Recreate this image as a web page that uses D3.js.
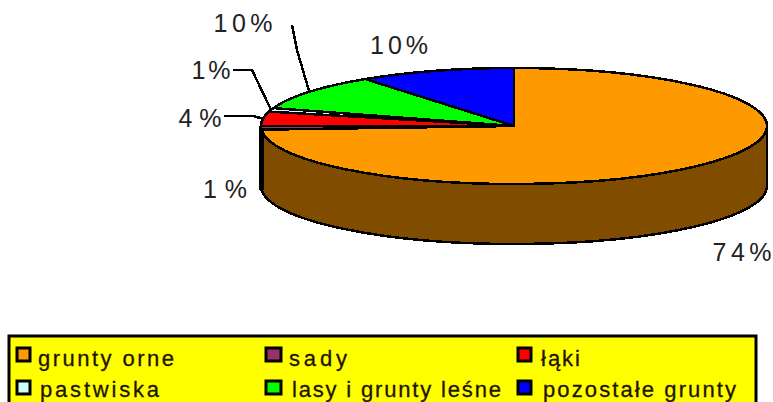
<!DOCTYPE html>
<html>
<head>
<meta charset="utf-8">
<script src="https://cdn.jsdelivr.net/npm/d3@7"></script>
<style>
  html, body { margin: 0; padding: 0; background: #fff; overflow: hidden; }
  svg { display: block; font-family: "Liberation Sans", Arial, sans-serif; }
</style>
</head>
<body>
<div id="chart"></div>
<script>
// values, clockwise from 12 o'clock
const categories = ['grunty orne', 'sady', 'łąki', 'pastwiska', 'lasy i grunty leśne', 'pozostałe grunty'];
const shares = [74, 1, 4, 1, 10, 10];
const colors = ['#ff9900', '#993366', '#ff0000', '#ccffff', '#00ff00', '#0000ff'];
const sideColors = ['#7f4c00', '#4c1933'];

// label placement, in slice order
const labelPos = [[742, 261], [225, 198], [200, 127], [211, 79], [243, 32], [399, 54]];
const labelW = [59, 44, 43, 39, 59, 58];
const elbows = [null, null, [[253, 116], [224, 116]], [[252, 70], [233, 70]], [[297, 50], [292, 25]], null];

// legend placement
const legendCols = [17, 266, 518];
const legendRows = [348, 381];
const legendBase = [366, 397];
const legendTextX = [[38, 289, 541], [40, 292, 543]];
const legendTextW = [[136, 58, 39], [119, 209, 193]];

const width = 773, height = 402;
const cx = 514, cy = 126, rx = 253, ry = 58, depth = 60;

const svg = d3.select('#chart').append('svg')
    .attr('width', width)
    .attr('height', height);

const pie = d3.pie().sort(null);
const slices = pie(shares);

const arc = d3.arc().innerRadius(0).outerRadius(rx);

// point on the top ellipse for a pie angle
const rimPoint = a => [cx + rx * Math.sin(a), cy - ry * Math.cos(a)];

// walls of the two slices that face the viewer
const sidePath = (a0, a1) => {
    const [x0, y0] = rimPoint(a0);
    const [x1, y1] = rimPoint(a1);
    return `M${x0},${y0} A${rx},${ry} 0 0 1 ${x1},${y1} L${x1},${y1 + depth} A${rx},${ry} 0 0 0 ${x0},${y0 + depth} Z`;
};

svg.selectAll('.side')
    .data(slices.slice(0, 2))
    .enter()
    .append('path')
    .attr('class', 'side')
    .attr('d', d => sidePath(Math.max(d.startAngle, Math.PI / 2), d.endAngle))
    .attr('fill', (d, i) => sideColors[i])
    .attr('stroke', '#000')
    .attr('stroke-width', (d, i) => i === 1 ? 5 : 2.5)
    .attr('shape-rendering', 'crispEdges');

svg.append('g')
    .attr('transform', `translate(${cx},${cy}) scale(1,${ry / rx})`)
    .selectAll('path')
    .data(slices)
    .enter()
    .append('path')
    .attr('d', arc)
    .attr('fill', (d, i) => colors[i])
    .attr('stroke', '#000')
    .attr('stroke-width', 2.5)
    .attr('vector-effect', 'non-scaling-stroke')
    .attr('shape-rendering', 'crispEdges');

// leader lines start on the rim at the middle of the slice
const line = d3.line();
slices.forEach((d, i) => {
    if (!elbows[i]) return;
    const start = rimPoint((d.startAngle + d.endAngle) / 2);
    svg.append('path')
        .attr('d', line([start, ...elbows[i]]))
        .attr('fill', 'none')
        .attr('stroke', '#000')
        .attr('stroke-width', 2.5)
        .attr('shape-rendering', 'crispEdges');
});

svg.selectAll('.pct')
    .data(shares)
    .enter()
    .append('text')
    .attr('class', 'pct')
    .attr('x', (d, i) => labelPos[i][0])
    .attr('y', (d, i) => labelPos[i][1])
    .attr('text-anchor', 'middle')
    .attr('textLength', (d, i) => labelW[i])
    .attr('lengthAdjust', 'spacing')
    .style('font-size', '25px')
    .style('fill', '#222')
    .text(d => `${d}%`);

// legend box runs past the bottom of the picture
svg.append('rect')
    .attr('x', 9)
    .attr('y', 336)
    .attr('width', 747)
    .attr('height', 90)
    .attr('fill', '#ffff00')
    .attr('stroke', '#000')
    .attr('stroke-width', 3);

const items = svg.selectAll('.item')
    .data(categories)
    .enter()
    .append('g')
    .attr('class', 'item');

items.append('rect')
    .attr('x', (d, i) => legendCols[i % 3])
    .attr('y', (d, i) => legendRows[Math.floor(i / 3)])
    .attr('width', (d, i) => i % 3 === 1 ? 15 : 13)
    .attr('height', 13)
    .attr('fill', (d, i) => colors[i])
    .attr('stroke', '#000')
    .attr('stroke-width', 3);

items.append('text')
    .attr('x', (d, i) => legendTextX[Math.floor(i / 3)][i % 3])
    .attr('y', (d, i) => legendBase[Math.floor(i / 3)])
    .attr('textLength', (d, i) => legendTextW[Math.floor(i / 3)][i % 3])
    .attr('lengthAdjust', 'spacing')
    .style('font-size', '22px')
    .style('fill', '#221500')
    .style('stroke', '#221500')
    .style('stroke-width', 0.3)
    .text(d => d);
</script>
</body>
</html>
